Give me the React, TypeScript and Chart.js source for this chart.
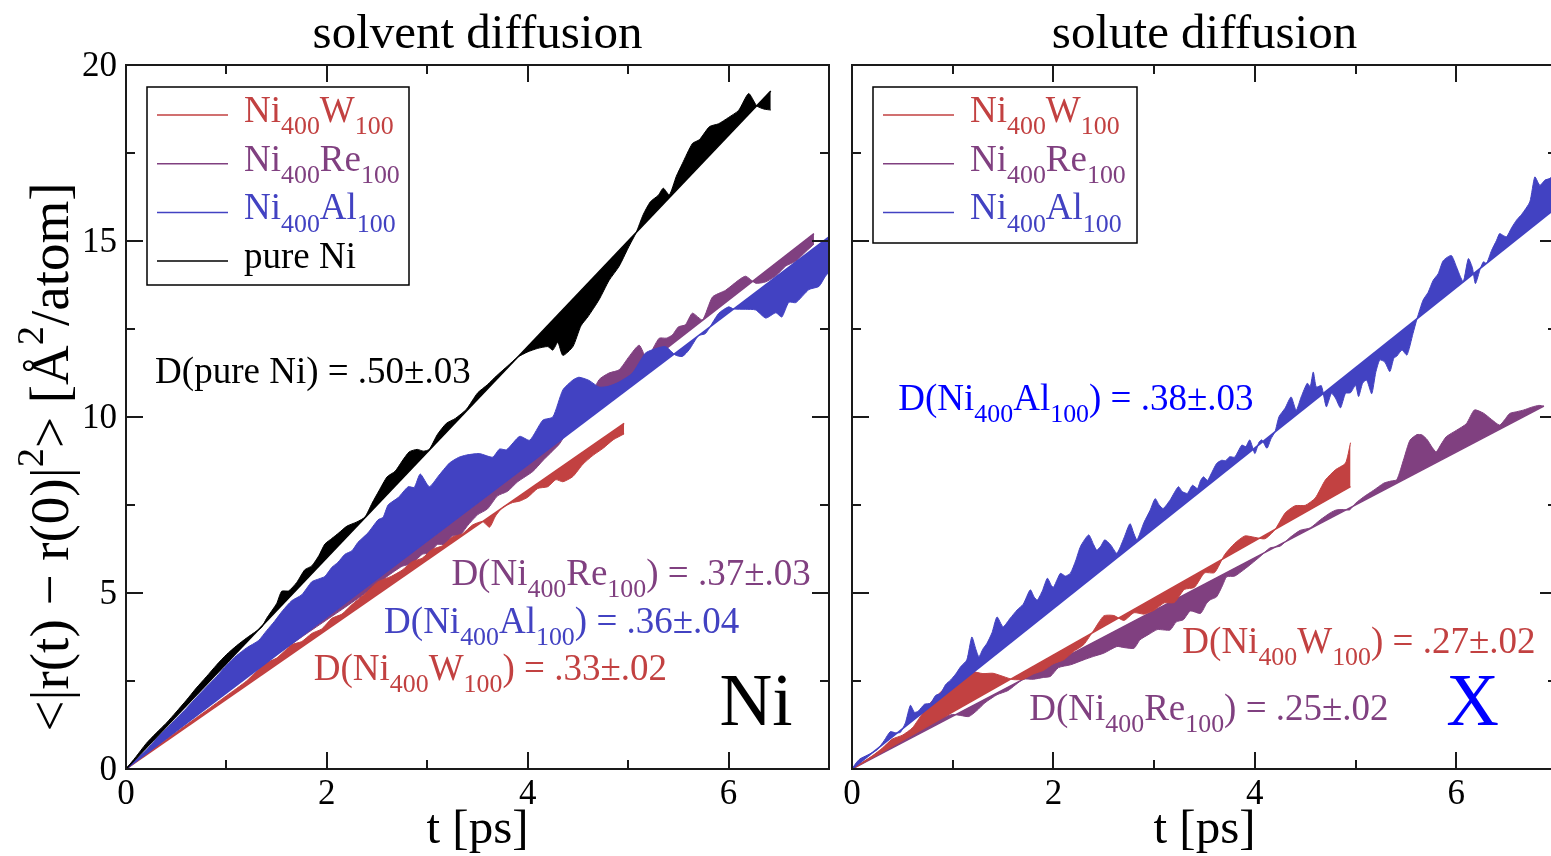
import React, { useEffect, useRef } from "react";
import { Chart, registerables } from "chart.js";

Chart.register(...registerables);

const SERIF = "'Liberation Serif', 'Times New Roman', Times, serif";

const RED = "#c24141";
const PURPLE = "#804080";
const BLUE = "#4242c2";
const BLACK = "#000000";
const PURE_BLUE = "#0000ff";

// ---------- axis ticks ----------
const xMajorTicks = [0, 2, 4, 6];
const xMinorTicks = [1, 3, 5, 7];
const yMajorTicks = [0, 5, 10, 15, 20];
const yMinorTicks = [2.5, 7.5, 12.5, 17.5];

// ---------- left panel: solvent diffusion ----------
const tSolvPureNi = [0,0.1,0.2,0.3,0.4,0.5,0.6,0.7,0.8,0.9,1.0,1.1,1.2,1.3,1.35,1.4,1.5,1.55,1.62,1.7,1.78,1.85,1.92,1.98,2.05,2.12,2.2,2.3,2.38,2.45,2.52,2.6,2.68,2.75,2.82,2.9,2.96,3.02,3.1,3.19,3.28,3.39,3.5,3.6,3.69,3.8,3.9,4.0,4.1,4.2,4.25,4.3,4.35,4.45,4.53,4.6,4.71,4.81,4.91,5.0,5.08,5.15,5.22,5.3,5.35,5.41,5.48,5.54,5.64,5.71,5.81,5.9,6.0,6.1,6.2,6.28,6.35,6.42];
const msdSolvPureNi = [0,0.35,0.72,1.02,1.30,1.62,1.95,2.30,2.62,2.95,3.25,3.50,3.72,3.92,4.02,4.28,4.70,5.05,5.06,5.30,5.66,5.77,6.06,6.39,6.55,6.71,6.90,7.02,7.16,7.55,7.91,8.30,8.46,8.75,9.01,9.08,9.03,9.08,9.50,9.82,9.96,10.22,10.68,10.92,11.17,11.45,11.70,11.85,11.95,12.00,11.90,12.12,11.75,12.00,12.59,12.85,13.33,13.88,14.28,14.80,15.24,15.75,16.11,16.30,16.50,16.31,16.84,17.20,17.77,17.88,18.25,18.33,18.51,18.71,19.19,18.84,18.75,18.72];
const fitSolvPureNiT = [0, 6.42];
const fitSolvPureNiV = [0, 19.26];

const tSolvAl = [0,0.1,0.2,0.3,0.4,0.5,0.6,0.7,0.8,0.9,1.0,1.1,1.2,1.32,1.4,1.48,1.56,1.65,1.75,1.85,1.92,1.98,2.05,2.11,2.18,2.25,2.31,2.41,2.51,2.56,2.61,2.71,2.81,2.87,2.93,3.02,3.11,3.22,3.31,3.39,3.52,3.65,3.72,3.79,3.92,4.02,4.15,4.25,4.35,4.45,4.51,4.61,4.71,4.8,4.9,5.04,5.17,5.24,5.37,5.47,5.54,5.61,5.7,5.77,5.9,6.0,6.05,6.17,6.27,6.37,6.47,6.53,6.6,6.67,6.8,6.9,6.96,7.0];
const msdSolvAl = [0,0.27,0.53,0.85,1.14,1.43,1.72,2.03,2.33,2.62,2.95,3.22,3.44,3.65,3.93,4.20,4.50,4.78,4.95,5.32,5.40,5.47,5.73,5.87,6.10,6.20,6.44,6.71,7.08,7.15,7.50,7.71,8.02,8.00,8.38,8.02,8.32,8.69,8.85,8.92,8.96,8.86,9.09,9.07,9.45,9.34,9.91,10.00,10.77,11.05,11.13,11.04,10.85,10.87,10.98,11.24,11.81,11.91,12.00,11.76,11.72,11.92,12.31,12.37,12.94,13.13,13.07,13.06,13.04,12.81,12.96,12.84,13.26,13.25,13.62,13.71,13.98,14.12];
const fitSolvAlT = [0, 7];
const fitSolvAlV = [0, 15.12];

const tSolvRe = [0,0.2,0.4,0.6,0.8,1.0,1.2,1.4,1.6,1.8,2.0,2.2,2.4,2.6,2.75,2.85,2.95,3.02,3.1,3.18,3.25,3.32,3.4,3.5,3.6,3.7,3.8,3.9,4.05,4.15,4.25,4.32,4.4,4.5,4.6,4.71,4.81,4.91,5.01,5.11,5.19,5.25,5.31,5.38,5.44,5.5,5.57,5.64,5.74,5.84,5.97,6.1,6.17,6.27,6.37,6.47,6.57,6.67,6.77,6.85];
const msdSolvRe = [0,0.49,0.99,1.45,1.88,2.27,2.66,3.06,3.45,3.85,4.24,4.63,5.03,5.47,5.76,5.84,6.10,6.14,6.38,6.38,6.62,6.62,6.91,7.22,7.39,7.76,7.89,8.16,8.45,8.76,9.04,9.25,9.62,9.94,10.41,11.06,11.25,11.34,11.72,12.04,11.62,11.96,12.24,12.24,12.33,12.56,12.62,12.95,12.76,13.41,13.60,13.89,14.00,13.80,13.84,14.01,14.29,14.43,14.70,14.91];
const fitSolvReT = [0, 6.85];
const fitSolvReV = [0, 15.21];

const tSolvW = [0,0.2,0.4,0.6,0.8,1.0,1.2,1.38,1.5,1.65,1.75,1.85,1.95,2.05,2.15,2.25,2.38,2.51,2.64,2.75,2.85,2.95,3.05,3.15,3.25,3.35,3.45,3.55,3.62,3.68,3.75,3.85,3.92,4.0,4.1,4.2,4.28,4.35,4.45,4.55,4.65,4.75,4.85,4.96];
const msdSolvW = [0,0.43,0.84,1.25,1.66,2.08,2.50,2.99,3.15,3.53,3.62,3.85,3.98,4.28,4.40,4.67,4.98,5.32,5.47,5.65,5.89,5.99,6.24,6.34,6.59,6.68,6.93,7.03,6.87,7.19,7.43,7.57,7.61,7.72,7.97,8.02,8.22,8.16,8.31,8.66,8.91,9.11,9.35,9.52];
const fitSolvWT = [0, 4.96];
const fitSolvWV = [0, 9.82];

// ---------- right panel: solute diffusion ----------
const tSoluAl = [0,0.04,0.08,0.15,0.25,0.32,0.38,0.43,0.48,0.53,0.58,0.62,0.66,0.72,0.78,0.83,0.88,0.93,0.98,1.03,1.08,1.14,1.19,1.23,1.26,1.3,1.34,1.39,1.44,1.5,1.57,1.64,1.7,1.77,1.81,1.84,1.89,1.94,1.98,2.0,2.04,2.07,2.12,2.17,2.22,2.27,2.35,2.4,2.43,2.47,2.51,2.57,2.63,2.7,2.76,2.8,2.83,2.9,2.96,3.01,3.05,3.09,3.16,3.24,3.28,3.33,3.38,3.43,3.46,3.49,3.53,3.56,3.62,3.67,3.71,3.75,3.8,3.87,3.91,3.95,4.0,4.04,4.07,4.12,4.16,4.2,4.24,4.3,4.36,4.41,4.46,4.52,4.55,4.58,4.61,4.66,4.71,4.76,4.8,4.85,4.9,4.95,5.0,5.03,5.07,5.11,5.16,5.2,5.24,5.29,5.34,5.38,5.41,5.46,5.51,5.57,5.61,5.67,5.72,5.77,5.82,5.87,5.95,6.0,6.04,6.07,6.12,6.16,6.19,6.24,6.27,6.3,6.35,6.4,6.43,6.47,6.5,6.55,6.6,6.65,6.73,6.78,6.83,6.88,6.93,7.0];
const msdSoluAl = [0,0.17,0.29,0.39,0.55,0.81,1.06,1.03,1.04,1.31,1.81,1.61,1.65,1.84,1.87,2.09,2.15,2.40,2.53,2.70,2.91,3.10,3.75,3.40,3.19,3.41,3.57,3.87,4.32,4.04,4.28,4.52,4.68,5.09,4.88,4.80,5.06,5.42,5.21,5.16,5.40,5.56,5.48,5.57,5.91,6.33,6.65,6.37,6.22,6.33,6.51,6.36,6.13,6.56,6.97,6.68,6.51,7.01,7.35,7.68,7.50,7.40,7.65,8.02,7.88,7.83,8.06,7.97,8.19,8.30,8.20,8.35,8.68,8.77,8.76,8.87,8.86,9.20,9.16,9.35,8.96,9.28,9.35,9.11,9.38,9.58,10.01,10.25,10.57,10.19,10.57,10.96,10.87,11.28,10.85,10.89,10.29,10.67,10.54,10.26,10.67,10.69,10.90,10.58,10.96,11.05,10.66,11.26,11.62,11.56,11.29,11.67,11.73,11.90,11.76,12.37,12.79,13.32,13.54,13.88,14.07,14.44,14.59,14.28,13.99,13.84,14.50,14.24,13.79,14.23,14.41,14.36,14.73,15.02,15.21,15.15,15.12,15.38,15.60,15.76,16.11,16.82,16.58,16.73,16.78,16.96];
const fitSoluAlT = [0, 7];
const fitSoluAlV = [0, 15.96];

const tSoluRe = [0,0.1,0.2,0.3,0.4,0.5,0.6,0.7,0.8,0.9,1.0,1.08,1.16,1.24,1.32,1.44,1.55,1.7,1.8,1.9,1.97,2.05,2.17,2.3,2.4,2.5,2.63,2.7,2.8,2.86,2.95,3.03,3.1,3.16,3.22,3.29,3.36,3.46,3.52,3.56,3.62,3.68,3.72,3.8,3.89,3.97,4.05,4.15,4.25,4.35,4.45,4.55,4.65,4.75,4.81,4.88,4.94,5.0,5.08,5.18,5.28,5.35,5.41,5.48,5.54,5.61,5.66,5.71,5.76,5.8,5.85,5.9,6.0,6.1,6.18,6.27,6.35,6.43,6.48,6.53,6.6,6.67,6.75,6.82,6.87];
const msdSoluRe = [0,0.18,0.36,0.55,0.72,0.90,1.05,1.23,1.35,1.47,1.55,1.52,1.49,1.66,1.88,2.11,2.23,2.55,2.55,2.60,2.63,2.88,2.96,3.10,3.20,3.29,3.48,3.45,3.43,3.67,3.83,3.96,3.95,3.95,4.18,4.24,4.49,4.42,4.70,4.81,4.89,5.22,5.46,5.48,5.66,5.84,6.03,6.28,6.33,6.58,6.78,6.85,7.08,7.28,7.36,7.37,7.36,7.55,7.73,7.92,8.12,8.18,8.22,8.82,9.34,9.50,9.49,9.36,9.14,9.01,9.23,9.44,9.62,9.81,10.20,10.11,9.93,9.77,9.92,10.10,10.15,10.20,10.28,10.33,10.31];
const fitSoluReT = [0, 6.87];
const fitSoluReV = [0, 10.31];

const tSoluW = [0,0.1,0.2,0.3,0.4,0.5,0.6,0.7,0.8,0.9,1.0,1.1,1.2,1.3,1.4,1.5,1.6,1.7,1.8,1.9,2.0,2.1,2.2,2.3,2.4,2.5,2.6,2.7,2.8,2.9,3.0,3.1,3.2,3.3,3.4,3.5,3.6,3.7,3.8,3.9,4.0,4.1,4.2,4.3,4.4,4.5,4.6,4.7,4.8,4.9,4.95];
const msdSoluW = [0,0.18,0.37,0.59,0.85,0.96,1.17,1.58,1.95,2.24,2.47,2.68,2.76,2.71,2.72,2.63,2.54,2.55,2.70,2.80,2.99,3.10,3.34,3.53,3.94,4.35,4.36,4.22,4.44,4.40,4.51,4.72,4.73,5.10,5.16,5.57,5.58,6.09,6.41,6.62,6.58,6.54,6.80,7.27,7.48,7.49,7.70,8.21,8.50,8.69,9.27];
const fitSoluWT = [0, 4.95];
const fitSoluWV = [0, 8.02];

// ---------- texts ----------
type Seg = [string, number]; // 0 normal, 1 subscript, 2 superscript
const segW: Seg[] = [["Ni", 0], ["400", 1], ["W", 0], ["100", 1]];
const segRe: Seg[] = [["Ni", 0], ["400", 1], ["Re", 0], ["100", 1]];
const segAl: Seg[] = [["Ni", 0], ["400", 1], ["Al", 0], ["100", 1]];
const segPure: Seg[] = [["pure Ni", 0]];

const legendSolvent = [
  { segs: segW, color: RED },
  { segs: segRe, color: PURPLE },
  { segs: segAl, color: BLUE },
  { segs: segPure, color: BLACK },
];
const legendSolute = [
  { segs: segW, color: RED },
  { segs: segRe, color: PURPLE },
  { segs: segAl, color: BLUE },
];

const notesSolvent = [
  { segs: [["D(pure Ni) = .50±.03", 0]] as Seg[], color: BLACK, at: [0.29, 10.97], size: 37 },
  { segs: [["D(Ni", 0], ["400", 1], ["Re", 0], ["100", 1], [") = .37±.03", 0]] as Seg[], color: PURPLE, at: [3.24, 5.23], size: 37 },
  { segs: [["D(Ni", 0], ["400", 1], ["Al", 0], ["100", 1], [") = .36±.04", 0]] as Seg[], color: BLUE, at: [2.57, 3.86], size: 37 },
  { segs: [["D(Ni", 0], ["400", 1], ["W", 0], ["100", 1], [") = .33±.02", 0]] as Seg[], color: RED, at: [1.87, 2.53], size: 37 },
  { segs: [["Ni", 0]] as Seg[], color: BLACK, at: [5.91, 1.25], size: 73 },
];
const notesSolute = [
  { segs: [["D(Ni", 0], ["400", 1], ["Al", 0], ["100", 1], [") = .38±.03", 0]] as Seg[], color: PURE_BLUE, at: [0.46, 10.2], size: 37 },
  { segs: [["D(Ni", 0], ["400", 1], ["W", 0], ["100", 1], [") = .27±.02", 0]] as Seg[], color: RED, at: [3.28, 3.3], size: 37 },
  { segs: [["D(Ni", 0], ["400", 1], ["Re", 0], ["100", 1], [") = .25±.02", 0]] as Seg[], color: PURPLE, at: [1.76, 1.39], size: 37 },
  { segs: [["X", 0]] as Seg[], color: PURE_BLUE, at: [5.9, 1.25], size: 73 },
];

const yTitleSegs: Seg[] = [["<|r(t) \u2212 r(0)|", 0], ["2", 2], ["> [Å", 0], ["2", 2], ["/atom]", 0]];

// ---------- helpers ----------
function drawRich(ctx: CanvasRenderingContext2D, segs: Seg[], x: number, y: number, size: number, color: string) {
  let cx = x;
  ctx.fillStyle = color;
  ctx.textBaseline = "alphabetic";
  ctx.textAlign = "left";
  for (const [s, k] of segs) {
    const fs = k ? size * 0.7 : size;
    ctx.font = `${fs}px ${SERIF}`;
    const dy = k === 1 ? size * 0.33 : k === 2 ? -size * 0.45 : 0;
    ctx.fillText(s, cx, y + dy);
    cx += ctx.measureText(s).width;
  }
  return cx - x;
}
function richWidth(ctx: CanvasRenderingContext2D, segs: Seg[], size: number) {
  let w = 0;
  for (const [s, k] of segs) {
    ctx.font = `${k ? size * 0.7 : size}px ${SERIF}`;
    w += ctx.measureText(s).width;
  }
  return w;
}

const decorPlugin = {
  id: "decor",
  afterDraw(chart: any, _args: any, opts: any) {
    const { ctx, chartArea: a, scales } = chart;
    const xs = scales.x;
    const ys = scales.y;
    ctx.save();
    // frame
    ctx.strokeStyle = "#1a1a1a";
    ctx.lineWidth = 2;
    ctx.strokeRect(a.left, a.top, a.right - a.left, a.bottom - a.top);
    // ticks
    ctx.lineWidth = 2;
    const xt = (vals: number[], len: number) => {
      for (const v of vals) {
        const px = Math.round(xs.getPixelForValue(v));
        ctx.beginPath();
        ctx.moveTo(px, a.bottom); ctx.lineTo(px, a.bottom - len);
        ctx.moveTo(px, a.top); ctx.lineTo(px, a.top + len);
        ctx.stroke();
      }
    };
    const yt = (vals: number[], len: number) => {
      for (const v of vals) {
        const py = Math.round(ys.getPixelForValue(v));
        ctx.beginPath();
        ctx.moveTo(a.left, py); ctx.lineTo(a.left + len, py);
        ctx.moveTo(a.right, py); ctx.lineTo(a.right - len, py);
        ctx.stroke();
      }
    };
    xt(xMajorTicks, 17); xt(xMinorTicks, 9);
    yt(yMajorTicks, 17); yt(yMinorTicks, 9);

    // tick labels
    ctx.fillStyle = "#000";
    ctx.font = `35px ${SERIF}`;
    ctx.textAlign = "center";
    ctx.textBaseline = "alphabetic";
    for (const v of xMajorTicks) ctx.fillText(String(v), xs.getPixelForValue(v), a.bottom + 35);
    if (opts.yLabels) {
      ctx.textAlign = "right";
      for (const v of yMajorTicks) ctx.fillText(String(v), a.left - 9, ys.getPixelForValue(v) + 11);
    }

    // axis titles
    const cx = (a.left + a.right) / 2;
    ctx.textAlign = "center";
    ctx.font = `49px ${SERIF}`;
    ctx.fillText(opts.title, cx, 48);
    ctx.fillText("t [ps]", cx, 843);
    if (opts.yLabels) {
      ctx.save();
      ctx.translate(68, 457);
      ctx.rotate(-Math.PI / 2);
      const w = richWidth(ctx, yTitleSegs, 55);
      drawRich(ctx, yTitleSegs, -w / 2, 0, 55, "#000");
      ctx.restore();
    }

    // legend
    const lg = opts.legend;
    const bx = a.left + 21, by = a.top + 22;
    ctx.fillStyle = "#fff";
    ctx.fillRect(bx, by, lg.w, lg.h);
    ctx.strokeStyle = "#000";
    ctx.lineWidth = 1.5;
    ctx.strokeRect(bx, by, lg.w, lg.h);
    lg.items.forEach((it: any, i: number) => {
      const ly = by + 28 + i * 48.7;
      ctx.strokeStyle = it.color;
      ctx.lineWidth = 1.5;
      ctx.beginPath();
      ctx.moveTo(bx + 10, ly); ctx.lineTo(bx + 81, ly);
      ctx.stroke();
      drawRich(ctx, it.segs, bx + 97, ly + 7, 37, it.color);
    });

    // annotations
    for (const n of opts.notes) {
      drawRich(ctx, n.segs, xs.getPixelForValue(n.at[0]), ys.getPixelForValue(n.at[1]), n.size, n.color);
    }
    ctx.restore();
  },
};

function pts(t: number[], v: number[]) {
  const n = Math.min(t.length, v.length);
  const out: { x: number; y: number }[] = [];
  for (let i = 0; i < n; i++) out.push({ x: t[i], y: v[i] });
  return out;
}

function pair(t: number[], v: number[], ft: number[], fv: number[], color: string, order: number, fitIndex: number) {
  return [
    {
      data: pts(t, v),
      borderColor: color,
      backgroundColor: color,
      borderWidth: 1,
      pointRadius: 0,
      tension: 0.2,
      fill: { target: fitIndex, above: color, below: color },
      order,
    },
    {
      data: pts(ft, fv),
      borderColor: color,
      backgroundColor: color,
      borderWidth: 1.5,
      pointRadius: 0,
      fill: false,
      order,
    },
  ];
}

function makeConfig(datasets: any[], yAxisWidth: number, rightPad: number, decor: any) {
  return {
    type: "line",
    data: { datasets },
    options: {
      responsive: false,
      animation: false,
      devicePixelRatio: 1,
      events: [],
      layout: { padding: { left: 0, right: rightPad, top: 65, bottom: 0 } },
      plugins: { legend: { display: false }, tooltip: { enabled: false }, decor },
      scales: {
        x: {
          type: "linear", min: 0, max: 7,
          grid: { display: false }, border: { display: false }, ticks: { display: false },
          afterFit: (s: any) => { s.height = 87; },
        },
        y: {
          type: "linear", min: 0, max: 20,
          grid: { display: false }, border: { display: false }, ticks: { display: false },
          afterFit: (s: any) => { s.width = yAxisWidth; },
        },
      },
    },
    plugins: [decorPlugin],
  } as any;
}

function Panel({ left, width, build }: { left: number; width: number; build: () => any }) {
  const ref = useRef<HTMLCanvasElement>(null);
  useEffect(() => {
    const chart = new Chart(ref.current as HTMLCanvasElement, build());
    return () => chart.destroy();
  }, []);
  return (
    <canvas
      ref={ref}
      width={width}
      height={856}
      style={{ position: "absolute", left, top: 0, width, height: 856 }}
    />
  );
}

function buildSolvent() {
  const ds = [
    ...pair(tSolvPureNi, msdSolvPureNi, fitSolvPureNiT, fitSolvPureNiV, BLACK, 1, 1),
    ...pair(tSolvAl, msdSolvAl, fitSolvAlT, fitSolvAlV, BLUE, 2, 3),
    ...pair(tSolvW, msdSolvW, fitSolvWT, fitSolvWV, RED, 3, 5),
    ...pair(tSolvRe, msdSolvRe, fitSolvReT, fitSolvReV, PURPLE, 4, 7),
  ];
  return makeConfig(ds, 126, 11, {
    title: "solvent diffusion",
    yLabels: true,
    legend: { w: 262, h: 198, items: legendSolvent },
    notes: notesSolvent,
  });
}

function buildSolute() {
  const ds = [
    ...pair(tSoluAl, msdSoluAl, fitSoluAlT, fitSoluAlV, BLUE, 1, 1),
    ...pair(tSoluW, msdSoluW, fitSoluWT, fitSoluWV, RED, 2, 3),
    ...pair(tSoluRe, msdSoluRe, fitSoluReT, fitSoluReV, PURPLE, 3, 5),
  ];
  return makeConfig(ds, 12, 8, {
    title: "solute diffusion",
    yLabels: false,
    legend: { w: 264, h: 156, items: legendSolute },
    notes: notesSolute,
  });
}

export default function App() {
  return (
    <div
      style={{
        position: "fixed", left: 0, top: 0, width: 1551, height: 856,
        overflow: "hidden", background: "#fff",
      }}
    >
      <Panel left={0} width={840} build={buildSolvent} />
      <Panel left={840} width={725} build={buildSolute} />
    </div>
  );
}
